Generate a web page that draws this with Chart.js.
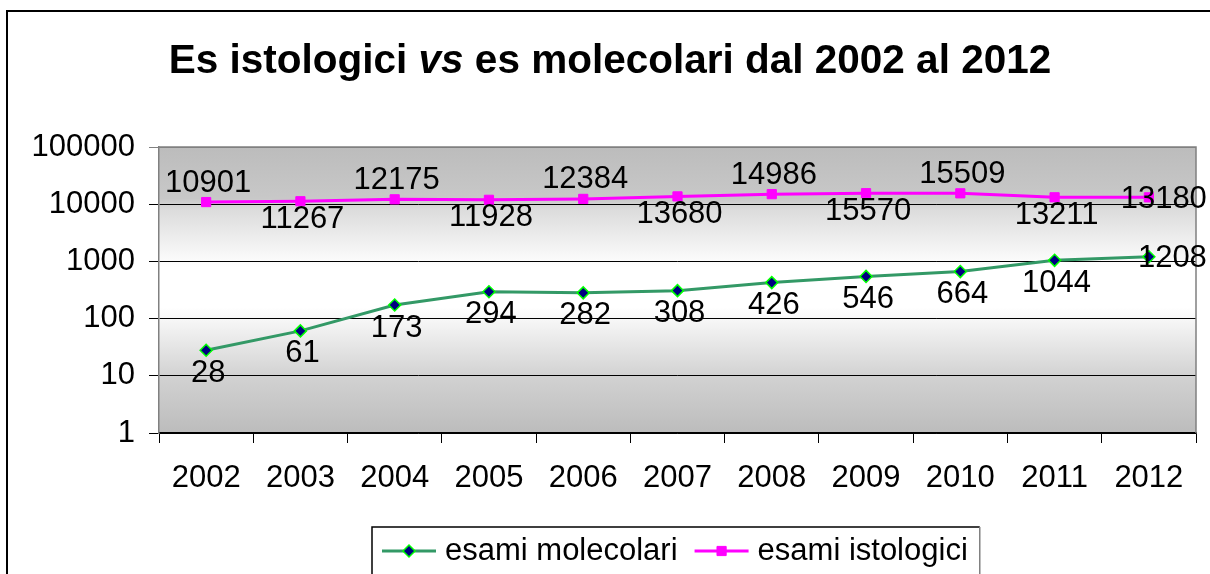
<!DOCTYPE html>
<html>
<head>
<meta charset="utf-8">
<script src="https://cdn.jsdelivr.net/npm/chart.js@4.4.1/dist/chart.umd.min.js"></script>
<style>
  html, body { margin: 0; padding: 0; background: #fff; }
  #wrap { width: 1210px; height: 574px; position: relative; overflow: hidden; }
</style>
</head>
<body>
<div id="wrap"><canvas id="chart" width="1210" height="574"></canvas></div>
<script>
const YEARS = ['2002', '2003', '2004', '2005', '2006', '2007', '2008', '2009', '2010', '2011', '2012'];
const MOLECOLARI = [28, 61, 173, 294, 282, 308, 426, 546, 664, 1044, 1208];
const ISTOLOGICI = [10901, 11267, 12175, 11928, 12384, 13680, 14986, 15570, 15509, 13211, 13180];
const Y_TICKS = [1, 10, 100, 1000, 10000, 100000];
const TITLE_PARTS = [
  ['Es istologici ', 'bold'],
  ['vs', 'italic bold'],
  [' es molecolari dal 2002 al 2012', 'bold'],
];

const FONT = '"Liberation Sans", Arial, sans-serif';
const TEXT_SIZE = 31;

// where each series puts its value labels
function labelPlace(dsIndex, i, n) {
  if (i === n - 1) return 'right';
  if (dsIndex === 0) return 'below';
  return i % 2 === 0 ? 'above' : 'below';
}

const decor = {
  id: 'decor',
  beforeDraw(chart) {
    const { ctx, chartArea: a } = chart;
    ctx.save();
    // outer frame (cut on right and bottom)
    ctx.strokeStyle = '#000';
    ctx.lineWidth = 2;
    ctx.beginPath();
    ctx.moveTo(7, 574);
    ctx.lineTo(7, 11);
    ctx.lineTo(1210, 11);
    ctx.stroke();

    // plot background gradient
    const g = ctx.createLinearGradient(0, a.top, 0, a.bottom);
    g.addColorStop(0, '#bcbcbc');
    g.addColorStop(0.18, '#c8c8c8');
    g.addColorStop(0.22, '#dcdcdc');
    g.addColorStop(0.42, '#ffffff');
    g.addColorStop(0.56, '#ffffff');
    g.addColorStop(0.8, '#d2d2d2');
    g.addColorStop(1, '#bcbcbc');
    ctx.fillStyle = g;
    ctx.fillRect(a.left, a.top, a.right - a.left, a.bottom - a.top);
    ctx.restore();
  },
  beforeDatasetsDraw(chart) {
    const { ctx, chartArea: a } = chart;
    ctx.save();
    ctx.strokeStyle = '#808080';
    ctx.lineWidth = 1.5;
    ctx.beginPath();
    ctx.moveTo(a.left, a.top);
    ctx.lineTo(a.right, a.top);
    ctx.lineTo(a.right, a.bottom);
    ctx.stroke();
    ctx.restore();
  },
  afterDatasetsDraw(chart) {
    const { ctx } = chart;
    ctx.save();
    ctx.font = TEXT_SIZE + 'px ' + FONT;
    ctx.fillStyle = '#000';
    ctx.textBaseline = 'middle';
    chart.data.datasets.forEach((ds, di) => {
      const pts = chart.getDatasetMeta(di).data;
      const below = di === 0 ? 23 : 18;
      pts.forEach((p, i) => {
        const where = labelPlace(di, i, pts.length);
        const txt = String(ds.data[i]);
        if (where === 'right') {
          ctx.textAlign = 'right';
          ctx.fillText(txt, p.x + 58, p.y + 2);
        } else {
          ctx.textAlign = 'center';
          ctx.fillText(txt, p.x + 2, where === 'above' ? p.y - 19 : p.y + below);
        }
      });
    });
    ctx.restore();
  },
  afterDraw(chart) {
    const { ctx } = chart;
    ctx.save();
    ctx.fillStyle = '#000';
    ctx.textBaseline = 'alphabetic';
    ctx.textAlign = 'left';

    // title with italic "vs"
    let total = 0;
    const widths = TITLE_PARTS.map(([t, s]) => {
      ctx.font = s + ' 40.5px ' + FONT;
      const w = ctx.measureText(t).width;
      total += w;
      return w;
    });
    let x = 610 - total / 2;
    TITLE_PARTS.forEach(([t, s], i) => {
      ctx.font = s + ' 40.5px ' + FONT;
      ctx.fillText(t, x, 73);
      x += widths[i];
    });

    // legend box
    ctx.font = TEXT_SIZE + 'px ' + FONT;
    ctx.textBaseline = 'middle';
    const ly = 551;
    let lx = 382;
    let textEnd = lx;
    chart.data.datasets.forEach((ds) => {
      ctx.strokeStyle = ds.borderColor;
      ctx.lineWidth = ds.borderWidth;
      ctx.beginPath();
      ctx.moveTo(lx, ly);
      ctx.lineTo(lx + 54, ly);
      ctx.stroke();
      ctx.fillStyle = ds.pointBackgroundColor;
      ctx.strokeStyle = ds.pointBorderColor;
      ctx.lineWidth = ds.pointBorderWidth;
      Chart.helpers.drawPoint(ctx, {
        pointStyle: ds.pointStyle, radius: ds.pointRadius,
        borderWidth: ds.pointBorderWidth, rotation: 0,
      }, lx + 27, ly);
      ctx.fillStyle = '#000';
      ctx.fillText(ds.label, lx + 63, ly);
      textEnd = lx + 63 + ctx.measureText(ds.label).width;
      lx = textEnd + 17;
    });
    ctx.lineWidth = 1.5;
    ctx.strokeStyle = '#000';
    ctx.beginPath();
    ctx.moveTo(372, 600);
    ctx.lineTo(372, 527);
    ctx.lineTo(textEnd + 12, 527);
    ctx.stroke();
    ctx.strokeStyle = '#808080';
    ctx.beginPath();
    ctx.moveTo(textEnd + 12, 527);
    ctx.lineTo(textEnd + 12, 600);
    ctx.stroke();
    ctx.restore();
  },
};

new Chart(document.getElementById('chart'), {
  type: 'line',
  data: {
    labels: YEARS,
    datasets: [
      {
        label: 'esami molecolari',
        data: MOLECOLARI,
        borderColor: '#339966',
        borderWidth: 3,
        pointStyle: 'rectRot',
        pointRadius: 6,
        pointBackgroundColor: '#000080',
        pointBorderColor: '#00ff00',
        pointBorderWidth: 1.5,
        tension: 0,
      },
      {
        label: 'esami istologici',
        data: ISTOLOGICI,
        borderColor: '#ff00ff',
        borderWidth: 3,
        pointStyle: 'rect',
        pointRadius: 6.5,
        pointBackgroundColor: '#ff00ff',
        pointBorderColor: '#ff00ff',
        pointBorderWidth: 1,
        tension: 0,
      },
    ],
  },
  options: {
    responsive: false,
    animation: false,
    devicePixelRatio: 1,
    layout: { padding: { left: 0, right: 14, top: 147, bottom: 0 } },
    plugins: { legend: { display: false }, title: { display: false }, tooltip: { enabled: false } },
    scales: {
      x: {
        offset: true,
        grid: { offset: true, drawOnChartArea: false, color: '#000', tickLength: 10, lineWidth: 1 },
        border: { color: '#000', width: 1.5 },
        ticks: { color: '#000', font: { family: FONT, size: TEXT_SIZE }, padding: 17, maxRotation: 0, autoSkip: false },
        afterFit(s) { s.height = 141; },
      },
      y: {
        type: 'logarithmic',
        min: 1,
        max: 100000,
        afterBuildTicks(s) { s.ticks = Y_TICKS.map((v) => ({ value: v })); },
        grid: { color: (c) => (c.tick && c.tick.value === 100000 ? '#808080' : '#000'), tickLength: 10, lineWidth: 1 },
        border: { color: '#808080', width: 1.5 },
        ticks: { color: '#000', font: { family: FONT, size: TEXT_SIZE }, padding: 14, callback: (v) => String(v) },
        afterFit(s) { s.width = 159; },
      },
    },
  },
  plugins: [decor],
});
</script>
</body>
</html>
